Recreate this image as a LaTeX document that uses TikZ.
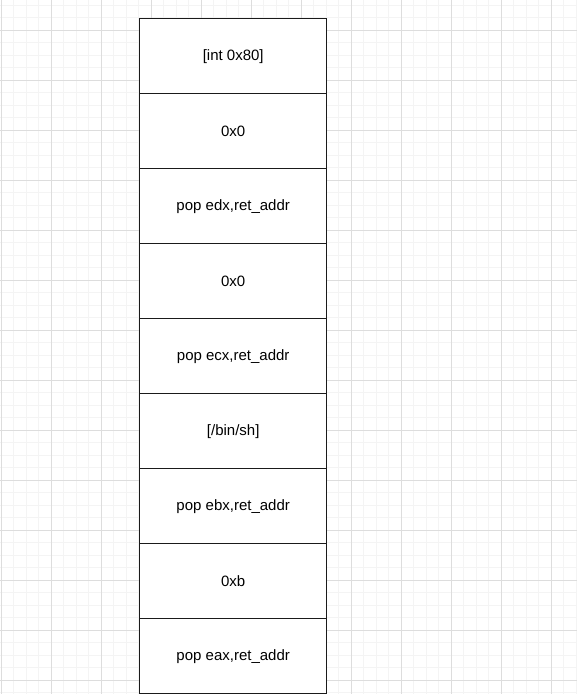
\documentclass[tikz,border=0pt]{standalone}
\usepackage{fontspec}
\setmainfont{Liberation Sans}
\definecolor{minorgrid}{HTML}{F4F4F4}
\definecolor{majorgrid}{HTML}{DDDDDD}
\definecolor{boxline}{HTML}{1A1A1A}
\begin{document}
\begin{tikzpicture}[x=1pt,y=-1pt,
  cell/.style={draw=boxline,fill=white,line width=1.4pt,minimum width=187pt,minimum height=75pt,inner sep=0pt,anchor=north west,font=\fontsize{15}{18}\selectfont}]
\useasboundingbox (0,0) rectangle (577,694);
\fill[white] (0,0) rectangle (577,694);
\foreach \i in {0,...,46} {\draw[minorgrid,line width=1pt] ({1+12.5*\i},0) -- ({1+12.5*\i},694);}
\foreach \i in {0,...,55} {\draw[minorgrid,line width=1pt] (0,{5+12.5*\i}) -- (577,{5+12.5*\i});}
\foreach \i in {0,...,11} {\draw[majorgrid,line width=1pt] ({1+50*\i},0) -- ({1+50*\i},694);}
\foreach \i in {0,...,13} {\draw[majorgrid,line width=1pt] (0,{30+50*\i}) -- (577,{30+50*\i});}
\node[cell] (c1) at (139,18) {[int 0x80]};
\node[cell] (c2) at (139,93) {0x0};
\node[cell] (c3) at (139,168) {pop edx,ret\_addr};
\node[cell] (c4) at (139,243) {0x0};
\node[cell] (c5) at (139,318) {pop ecx,ret\_addr};
\node[cell] (c6) at (139,393) {[/bin/sh]};
\node[cell] (c7) at (139,468) {pop ebx,ret\_addr};
\node[cell] (c8) at (139,543) {0xb};
\node[cell] (c9) at (139,618) {pop eax,ret\_addr};
\end{tikzpicture}
\end{document}
